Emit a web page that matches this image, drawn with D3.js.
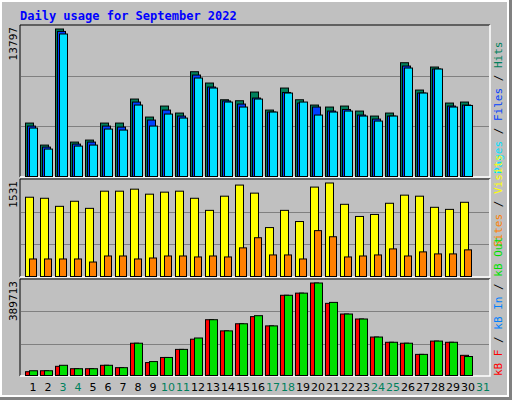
<!DOCTYPE html>
<html><head><meta charset="utf-8">
<script src="https://cdn.jsdelivr.net/npm/d3@7"></script>
<style>body{margin:0;background:#fff}</style></head>
<body><svg id="c" width="512" height="400"></svg>
<script>
const days = d3.range(1, 32);
const weekendDays = [3,4,10,11,17,18,24,25,31];
const hits = [4998,2939,13797,3220,3407,4998,4998,7245,5560,6589,5934,9800,8742,7179,7086,7900,6215,8274,7179,6683,6496,6589,6121,5653,5934,10642,8087,10240,6870,6964,0];
const files = [4717,2752,13572,3033,3220,4717,4624,6964,5279,6215,5653,9491,8368,7067,6777,7338,6028,7862,6870,6496,6121,6271,5747,5373,5653,10333,7806,10053,6589,6683,0];
const pages = [4530,2565,13329,2845,2939,4437,4343,6683,4717,5841,5466,9210,8274,6964,6496,7245,6028,7806,6964,5747,6028,6121,5653,5185,5653,10146,7806,10053,6496,6646,0];
const visits = [1298,1281,1149,1232,1116,1397,1397,1430,1348,1381,1397,1281,1083,1315,1497,1365,801,1083,900,1464,1531,1182,983,1016,1199,1332,1315,1133,1099,1215,0];
const sites = [287,287,287,287,237,336,336,287,303,336,336,320,336,320,469,635,353,353,287,751,651,320,336,353,452,336,403,370,370,436,0];
const kbF = [15900,20000,38700,28600,28600,43000,33000,136000,54400,76000,110000,153000,235000,188000,218000,248000,209000,338000,347000,389713,304000,259000,238000,162000,140000,136000,89000,145000,140000,85000,0];
const kbIn = [300,300,900,300,300,400,300,600,400,400,500,600,700,600,700,700,600,900,900,1000,800,700,700,600,600,600,500,600,600,500,0];
const kbOut = [20000,20000,43000,28600,28600,43000,33000,136000,58700,76000,110000,158000,235000,188000,218000,252000,209000,338000,347000,389713,308000,259000,238000,162000,140000,136000,89000,145000,140000,80000,0];
const maxLabels = ["13797","1531","389713"];

const svg = d3.select("#c");
const mono = "DejaVu Sans Mono";
// frame
svg.append("rect").attr("x",0).attr("y",0).attr("width",512).attr("height",400).attr("fill","#808080");
svg.append("rect").attr("x",0).attr("y",0).attr("width",509).attr("height",397).attr("fill","#fff");
svg.append("rect").attr("x",2).attr("y",2).attr("width",505).attr("height",393).attr("fill","#c0c0c0");
svg.append("text").attr("x",20).attr("y",20).attr("font-family",mono).attr("font-weight","bold")
  .attr("font-size",12).attr("fill","#0000ff").text("Daily usage for September 2022");

const x = d3.scaleBand().domain(days).range([20,490]).paddingInner(0).paddingOuter(0);
const x0 = d => 25 + (d-1)*15;

const panels = [
  {y0:25,y1:177,max:13797,off:[0,2,4],w:[8,8,8],series:[hits,files,pages],colors:["#00805c","#0040ff","#00e0ff"]},
  {y0:179,y1:277,max:1531,off:[0,4],w:[8,7],series:[visits,sites],colors:["#ffff00","#ff8000"]},
  {y0:279,y1:376,max:389713,off:[0,2,4],w:[8,8,8],series:[kbF,kbIn,kbOut],colors:["#ff0000","#0080ff","#00e000"]}
];
panels.forEach((p,pi)=>{
  const g = svg.append("g");
  g.append("rect").attr("x",20).attr("y",p.y0).attr("width",470).attr("height",p.y1-p.y0).attr("fill","#c0c0c0");
  g.append("path").attr("d",`M20,${p.y1}V${p.y0}H490`).attr("stroke","#000").attr("stroke-width",1).attr("fill","none");
  g.append("path").attr("d",`M490,${p.y0}V${p.y1}H20`).attr("stroke","#fff").attr("stroke-width",1.5).attr("fill","none");
  const y = d3.scaleLinear().domain([0,p.max]).range([p.y1-0.5, p.y0+4]);
  const h = p.y1-p.y0;
  [1/3,2/3].forEach(f=>{
    const gy = Math.round(p.y1 - h*f) + 0.5;
    g.append("line").attr("x1",21).attr("x2",489).attr("y1",gy).attr("y2",gy).attr("stroke","#808080");
  });
  p.series.forEach((s,si)=>{
    g.selectAll(null).data(days.filter((d,i)=>s[i]>0)).enter().append("rect")
      .attr("x",d=>x0(d)+p.off[si]+0.5).attr("width",p.w[si])
      .attr("y",d=>y(s[d-1])).attr("height",d=>y(0)-y(s[d-1]))
      .attr("fill",p.colors[si]).attr("stroke","#000").attr("stroke-width",1);
  });
  svg.append("text").attr("transform",`translate(17,${p.y0+2}) rotate(-90)`).attr("text-anchor","end")
    .attr("font-family","DejaVu Sans").attr("font-size",10.5).attr("fill","#000").text(maxLabels[pi]);
});

// right labels
function vlabel(xp, yp, parts){
  const t = svg.append("text").attr("transform",`translate(${xp},${yp}) rotate(-90)`)
    .attr("font-family",mono).attr("font-size",11);
  parts.forEach(([s,c])=>t.append("tspan").attr("fill",c).text(s));
}
vlabel(502,174,[["Pages","#00e0ff"],[" / ","#000"],["Files","#0040ff"],[" / ","#000"],["Hits","#00805c"]]);
vlabel(502,247,[["Sites","#ff8000"],[" / ","#000"],["Visits","#ffff00"]]);
vlabel(502,376,[["kB F","#ff0000"],[" / ","#000"],["kB In","#0080ff"],[" / ","#000"],["kB Out","#00e000"]]);

// day labels
svg.selectAll(null).data(days).enter().append("text")
  .attr("x",d=>x0(d)+8).attr("y",391).attr("text-anchor","middle")
  .attr("font-family","DejaVu Sans").attr("font-size",11)
  .attr("fill",d=>weekendDays.includes(d)?"#00805c":"#000").text(d=>d);
</script></body></html>
